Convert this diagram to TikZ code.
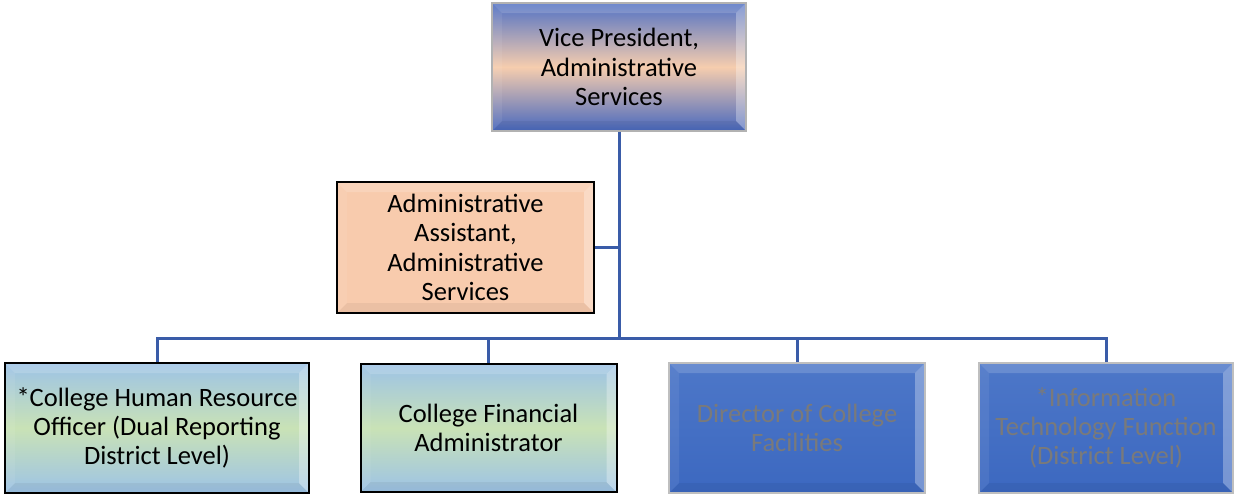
\documentclass[tikz,border=0pt]{standalone}
\usepackage{fontspec}
\setmainfont{Carlito}
\definecolor{vpblue}{HTML}{5272C4}
\definecolor{vpblue2}{HTML}{4868BE}
\definecolor{peach}{HTML}{F6CDAE}
\definecolor{asst}{HTML}{F8CBAD}
\definecolor{lblue}{HTML}{9DC3E6}
\definecolor{lgreen}{HTML}{C9E2B6}
\definecolor{dblue}{HTML}{3C68C0}
\definecolor{dblue2}{HTML}{4D77C8}
\definecolor{linec}{HTML}{3A5CA8}
\definecolor{gtext}{HTML}{7A7A7A}
\pgfdeclareverticalshading{vpshade}{100bp}{color(0bp)=(vpblue2); color(25bp)=(vpblue2); color(50bp)=(peach); color(75bp)=(vpblue); color(100bp)=(vpblue)}
\pgfdeclareverticalshading{grshade}{100bp}{color(0bp)=(lblue); color(25bp)=(lblue); color(50bp)=(lgreen); color(75bp)=(lblue); color(100bp)=(lblue)}
\pgfdeclareverticalshading{blshade}{100bp}{color(0bp)=(dblue); color(25bp)=(dblue); color(75bp)=(dblue2); color(100bp)=(dblue2)}
\tikzset{
  bevel/.style={path picture={
    \def\bb{path picture bounding box}
    \fill[white,opacity=0.16] (\bb.north west) -- (\bb.north east) -- ([xshift=-10pt,yshift=-10pt]\bb.north east) -- ([xshift=10pt,yshift=-10pt]\bb.north west) -- cycle;
    \fill[white,opacity=0.07] (\bb.north west) -- ([xshift=10pt,yshift=-10pt]\bb.north west) -- ([xshift=10pt,yshift=10pt]\bb.south west) -- (\bb.south west) -- cycle;
    \fill[white,opacity=0.3] (\bb.north east) -- ([xshift=-10pt,yshift=-10pt]\bb.north east) -- ([xshift=-10pt,yshift=10pt]\bb.south east) -- (\bb.south east) -- cycle;
    \fill[black,opacity=0.05] (\bb.south west) -- ([xshift=10pt,yshift=10pt]\bb.south west) -- ([xshift=-10pt,yshift=10pt]\bb.south east) -- (\bb.south east) -- cycle;
  }},
  box/.style={rectangle, inner sep=0pt, align=center, font=\fontsize{26.5}{29.3}\selectfont, bevel},
  vpbox/.style={box, shading=vpshade, draw=gray!60, line width=1.2pt},
  asbox/.style={box, fill=asst, draw=black, line width=2pt},
  grbox/.style={box, shading=grshade, draw=black, line width=2pt},
  blbox/.style={box, shading=blshade, draw=gray!50, line width=1.2pt, text=gtext},
  conn/.style={draw=linec, line width=3pt}
}
\begin{document}
\begin{tikzpicture}[x=1pt,y=-1pt]
\useasboundingbox (0,0) rectangle (1234,496);
\node[vpbox, minimum width=254pt, minimum height=128pt] (vp) at (619,67) {Vice President,\\Administrative\\Services};
\node[asbox, minimum width=257pt, minimum height=131pt] (as) at (465.5,247.5) {Administrative\\Assistant,\\Administrative\\Services};
\node[grbox, minimum width=304pt, minimum height=130pt] (b1) at (157,428) {*College Human Resource\\Officer (Dual Reporting\\District Level)};
\node[grbox, minimum width=256pt, minimum height=128pt] (b2) at (488.5,428) {College Financial\\Administrator};
\node[blbox, minimum width=256pt, minimum height=130pt] (b3) at (797,428) {Director of College\\Facilities};
\node[blbox, minimum width=254pt, minimum height=130pt] (b4) at (1106,428) {*Information\\Technology Function\\(District Level)};
\coordinate (bar) at (619,338);
\coordinate (asj) at (619,247.5);
\draw[conn] (vp.south) -- (bar);
\draw[conn, line width=2.5pt] (as.east) -- (asj);
\draw[conn] (b1.north) -- (b1.north |- bar) -- (b4.north |- bar) -- (b4.north);
\draw[conn] (b2.north) -- (b2.north |- bar);
\draw[conn] (b3.north) -- (b3.north |- bar);
\end{tikzpicture}
\end{document}
